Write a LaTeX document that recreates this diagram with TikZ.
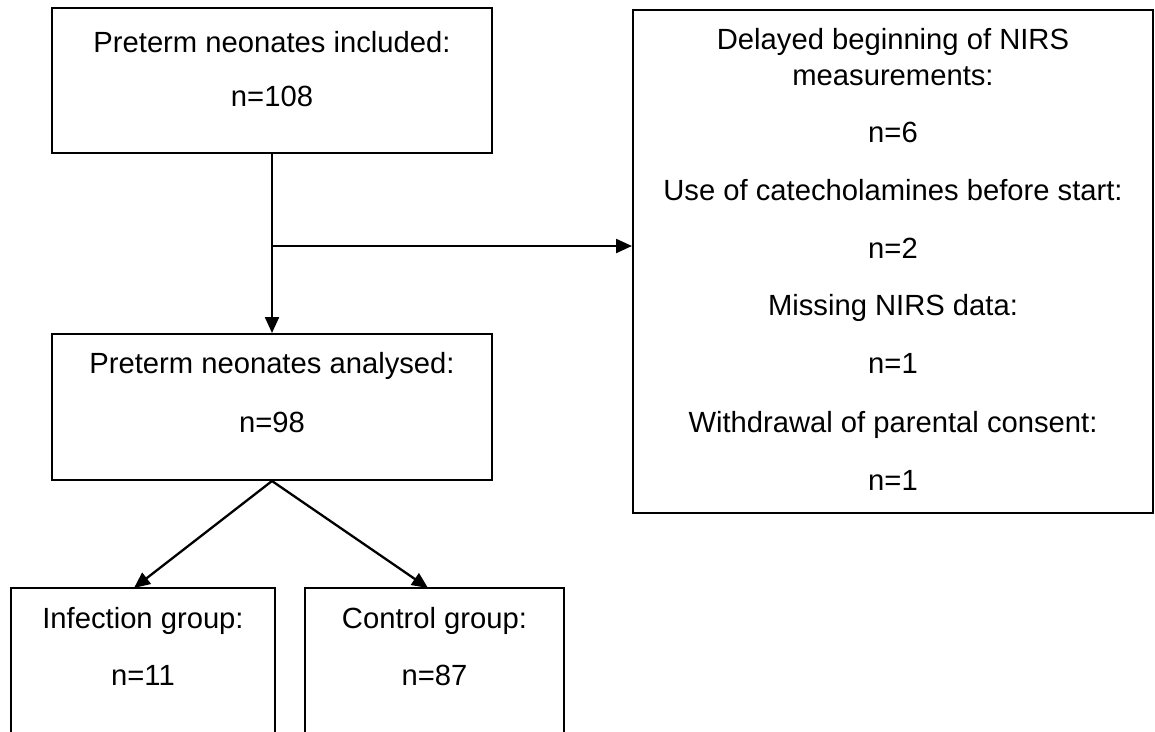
\documentclass[tikz,border=0pt]{standalone}
\usepackage{fontspec}
\setmainfont{Liberation Sans}
\usetikzlibrary{arrows.meta}
\begin{document}
\begin{tikzpicture}[x=1pt,y=-1pt]
\tikzset{
  box/.style={draw=black, line width=2pt, rectangle, inner sep=0pt},
  txt/.style={anchor=base, inner sep=0pt, font=\fontsize{29.2}{35}\selectfont},
  arr/.style={line width=2.3pt, -{Triangle[length=16pt,width=14pt]}}
}
\useasboundingbox (0,0) rectangle (1155,731);
\clip (0,0) rectangle (1155,731);
% boxes
\node[box, minimum width=440pt, minimum height=145pt] (inc) at (272,80.5) {};
\node[box, minimum width=520pt, minimum height=503pt] (exc) at (893,261.5) {};
\node[box, minimum width=440pt, minimum height=146pt] (ana) at (272,407) {};
\node[box, minimum width=264pt, minimum height=200pt] (inf) at (143,688) {};
\node[box, minimum width=259pt, minimum height=200pt] (con) at (434.5,688) {};
% texts
\node[txt] (inc1) at (272,52) {Preterm neonates included:};
\node[txt] (inc2) at (272,106) {n=108};
\node[txt] (exc1) at (893,49) {Delayed beginning of NIRS};
\node[txt] (exc2) at (893,85) {measurements:};
\node[txt] (exc3) at (893,142.5) {n=6};
\node[txt] (exc4) at (893,200.5) {Use of catecholamines before start:};
\node[txt] (exc5) at (893,258.5) {n=2};
\node[txt] (exc6) at (893,315.5) {Missing NIRS data:};
\node[txt] (exc7) at (893,373.5) {n=1};
\node[txt] (exc8) at (893,432.5) {Withdrawal of parental consent:};
\node[txt] (exc9) at (893,490.5) {n=1};
\node[txt] (ana1) at (272,373) {Preterm neonates analysed:};
\node[txt] (ana2) at (272,432) {n=98};
\node[txt] (inf1) at (143,628) {Infection group:};
\node[txt] (inf2) at (143,685) {n=11};
\node[txt] (con1) at (434.5,628) {Control group:};
\node[txt] (con2) at (434.5,685) {n=87};
% connectors
\coordinate (j) at (272,246);
\coordinate (ti) at (134,588);
\coordinate (tc) at (428,588);
\draw[arr] (inc.south) -- (ana.north);
\draw[arr] (j) -- (j -| exc.west);
\draw[arr] (ana.south) -- (ti);
\draw[arr] (ana.south) -- (tc);
\end{tikzpicture}
\end{document}
